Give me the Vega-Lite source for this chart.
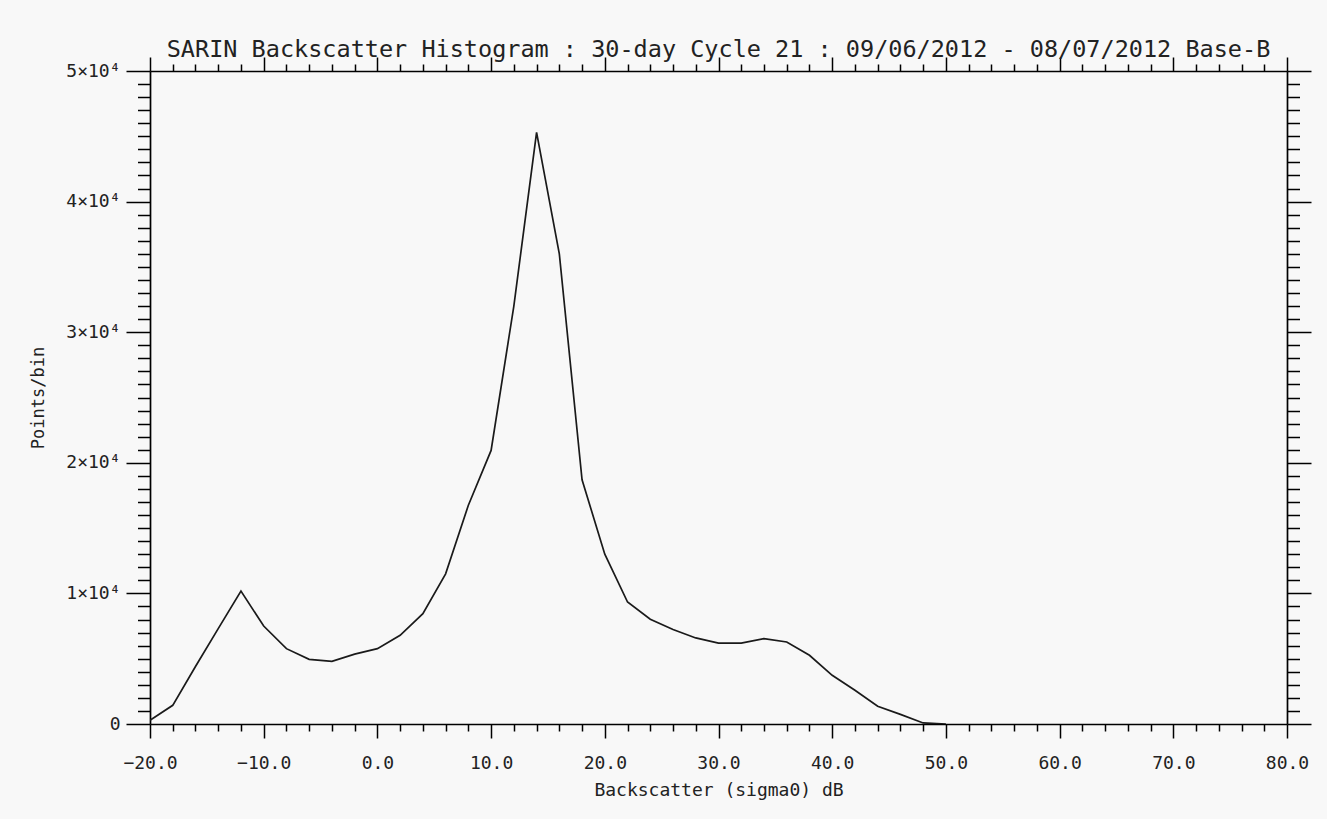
{
  "$schema": "https://vega.github.io/schema/vega-lite/v6.json",
  "width": 1137,
  "height": 653,
  "autosize": {"type": "none"},
  "padding": {"left": 150, "top": 71, "right": 40, "bottom": 95},
  "background": "#f8f8f8",
  "config": {
    "view": {"stroke": null},
    "font": "DejaVu Sans Mono",
    "axis": {
      "grid": false,
      "domainColor": "#000",
      "domainWidth": 1.7,
      "tickColor": "#000",
      "tickWidth": 1.5,
      "labelFont": "DejaVu Sans Mono",
      "labelFontSize": 18,
      "labelColor": "#222",
      "titleFont": "DejaVu Sans Mono",
      "titleFontSize": 18,
      "titleFontWeight": "normal",
      "titleColor": "#222",
      "labelOverlap": false,
      "labelFlush": false,
      "labelBound": false
    }
  },
  "title": {
    "text": "SARIN Backscatter Histogram : 30-day Cycle 21 : 09/06/2012 - 08/07/2012 Base-B",
    "font": "DejaVu Sans Mono",
    "fontSize": 23.5,
    "fontWeight": "normal",
    "color": "#222",
    "anchor": "middle",
    "frame": "group",
    "baseline": "alphabetic",
    "offset": -24.5
  },
  "data": {
    "values": [
      {"sigma0_dB": -20, "points": 280},
      {"sigma0_dB": -18, "points": 1430},
      {"sigma0_dB": -16, "points": 4400},
      {"sigma0_dB": -14, "points": 7300},
      {"sigma0_dB": -12, "points": 10180},
      {"sigma0_dB": -10, "points": 7500},
      {"sigma0_dB": -8, "points": 5770},
      {"sigma0_dB": -6, "points": 4950},
      {"sigma0_dB": -4, "points": 4800},
      {"sigma0_dB": -2, "points": 5350},
      {"sigma0_dB": 0, "points": 5770},
      {"sigma0_dB": 2, "points": 6790},
      {"sigma0_dB": 4, "points": 8450},
      {"sigma0_dB": 6, "points": 11500},
      {"sigma0_dB": 8, "points": 16750},
      {"sigma0_dB": 10, "points": 20950},
      {"sigma0_dB": 12, "points": 32000},
      {"sigma0_dB": 14, "points": 45300},
      {"sigma0_dB": 16, "points": 36000},
      {"sigma0_dB": 18, "points": 18700},
      {"sigma0_dB": 20, "points": 13000},
      {"sigma0_dB": 22, "points": 9340},
      {"sigma0_dB": 24, "points": 8020},
      {"sigma0_dB": 26, "points": 7230},
      {"sigma0_dB": 28, "points": 6590},
      {"sigma0_dB": 30, "points": 6200},
      {"sigma0_dB": 32, "points": 6200},
      {"sigma0_dB": 34, "points": 6540},
      {"sigma0_dB": 36, "points": 6280},
      {"sigma0_dB": 38, "points": 5260},
      {"sigma0_dB": 40, "points": 3730},
      {"sigma0_dB": 42, "points": 2580},
      {"sigma0_dB": 44, "points": 1355},
      {"sigma0_dB": 46, "points": 740},
      {"sigma0_dB": 48, "points": 80},
      {"sigma0_dB": 50, "points": 0}
    ]
  },
  "layer": [
    {
      "mark": {"type": "line", "color": "#1a1a1a", "strokeWidth": 1.7, "clip": true},
      "encoding": {
        "x": {
          "field": "sigma0_dB",
          "type": "quantitative",
          "scale": {"domain": [-20, 80], "nice": false, "zero": false},
          "axis": {
            "orient": "bottom",
            "title": "Backscatter (sigma0) dB",
            "values": [-20,-18,-16,-14,-12,-10,-8,-6,-4,-2,0,2,4,6,8,10,12,14,16,18,20,22,24,26,28,30,32,34,36,38,40,42,44,46,48,50,52,54,56,58,60,62,64,66,68,70,72,74,76,78,80],
            "tickSize": {"condition": {"test": "datum.value % 10 != 0", "value": 7}, "value": 14},
            "labelExpr": "datum.value % 10 == 0 ? format(datum.value, '.1f') : ''",
            "labelPadding": 16,
            "titlePadding": 9
          }
        },
        "y": {
          "field": "points",
          "type": "quantitative",
          "scale": {"domain": [0, 50000], "nice": false},
          "axis": {
            "orient": "left",
            "title": "Points/bin",
            "titleFontSize": 17,
            "values": [0,1000,2000,3000,4000,5000,6000,7000,8000,9000,10000,11000,12000,13000,14000,15000,16000,17000,18000,19000,20000,21000,22000,23000,24000,25000,26000,27000,28000,29000,30000,31000,32000,33000,34000,35000,36000,37000,38000,39000,40000,41000,42000,43000,44000,45000,46000,47000,48000,49000,50000],
            "tickSize": {"condition": {"test": "datum.value % 10000 != 0", "value": 12.5}, "value": 24},
            "labelExpr": "datum.value == 0 ? '0' : (datum.value % 10000 == 0 ? format(datum.value / 10000, 'd') + '×10⁴' : '')",
            "labelPadding": 6,
            "titlePadding": 18
          }
        }
      }
    },
    {
      "mark": {"type": "line", "opacity": 0},
      "encoding": {
        "x": {
          "field": "sigma0_dB",
          "type": "quantitative",
          "scale": {"domain": [-20, 80], "nice": false, "zero": false},
          "axis": {
            "orient": "top",
            "title": null,
            "labels": false,
            "values": [-20,-18,-16,-14,-12,-10,-8,-6,-4,-2,0,2,4,6,8,10,12,14,16,18,20,22,24,26,28,30,32,34,36,38,40,42,44,46,48,50,52,54,56,58,60,62,64,66,68,70,72,74,76,78,80],
            "tickSize": {"condition": {"test": "datum.value % 10 != 0", "value": 7}, "value": 14}
          }
        },
        "y": {
          "field": "points",
          "type": "quantitative",
          "scale": {"domain": [0, 50000], "nice": false},
          "axis": {
            "orient": "right",
            "title": null,
            "labels": false,
            "values": [0,1000,2000,3000,4000,5000,6000,7000,8000,9000,10000,11000,12000,13000,14000,15000,16000,17000,18000,19000,20000,21000,22000,23000,24000,25000,26000,27000,28000,29000,30000,31000,32000,33000,34000,35000,36000,37000,38000,39000,40000,41000,42000,43000,44000,45000,46000,47000,48000,49000,50000],
            "tickSize": {"condition": {"test": "datum.value % 10000 != 0", "value": 12.5}, "value": 24}
          }
        }
      }
    }
  ],
  "resolve": {"axis": {"x": "independent", "y": "independent"}}
}
